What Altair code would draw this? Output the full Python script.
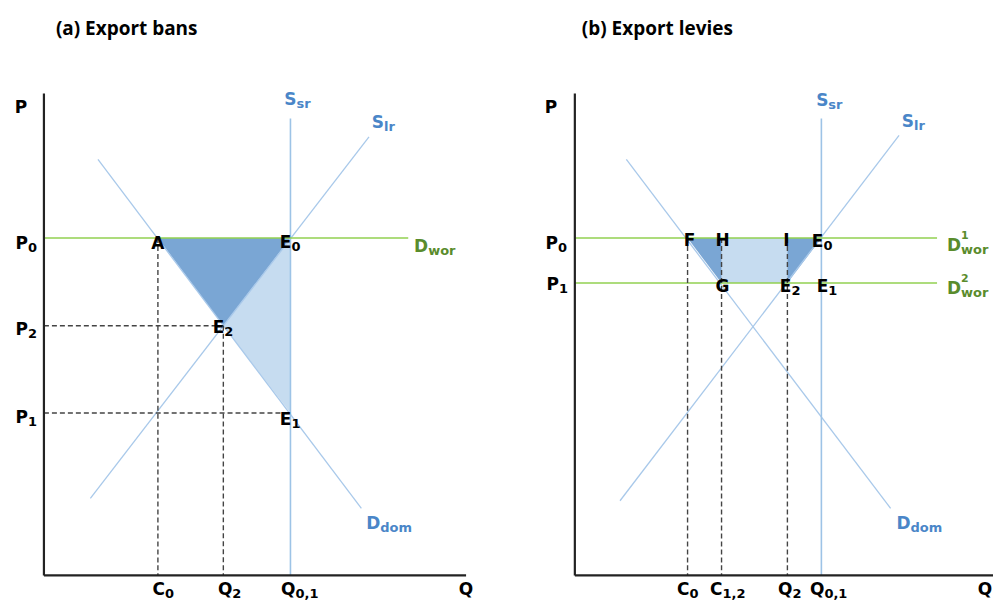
import altair as alt
import pandas as pd

# ----------------------------- values (units 0..10) -----------------------------
AXIS_MAX = 10.0

# (a) Export bans
A_TITLE = "(a) Export bans"
A_Q_NAMES = ["C", "Q", "Q"]
A_Q_SUBS = ["0", "2", "0,1"]
A_Q_VALUES = [2.70, 4.25, 5.84]          # C0, Q2, Q0,1
A_P_SUBS = ["0", "2", "1"]
A_P_VALUES = [7.00, 5.18, 3.37]          # P0, P2, P1
A_DDOM_Q = [1.28, 7.52]
A_DDOM_P = [8.63, 1.39]
A_SLR_Q = [1.10, 7.70]
A_SLR_P = [1.60, 9.10]
A_SSR_TOP = 9.48
A_DWOR_END = 8.63

# (b) Export levies
B_TITLE = "(b) Export levies"
B_Q_NAMES = ["C", "C", "Q", "Q"]
B_Q_SUBS = ["0", "1,2", "2", "0,1"]
B_Q_VALUES = [2.67, 3.475, 5.035, 5.84]  # C0, C1,2, Q2, Q0,1
B_P_SUBS = ["0", "1"]
B_P_VALUES = [7.00, 6.066]               # P0, P1
B_DDOM_Q = [1.22, 7.48]
B_DDOM_P = [8.63, 1.39]
B_SLR_Q = [1.07, 7.68]
B_SLR_P = [1.55, 9.13]
B_SSR_TOP = 9.48
B_DWOR_END = 8.58

# ----------------------------- layout & style -----------------------------
KX, KY = 42.3, 48.3      # pixels per diagram unit
H = 594
Y0 = 567                 # origin distance from panel top (px)
BLACK = "#000000"
BLUE_T = "#4a86c8"
GREEN_T = "#5a8c2c"
LINE_BLUE = "#a9c9ea"
SSR_BLUE = "#9dc3e6"
GREEN = "#92d050"
DARK_FILL = "#7aa6d4"
LIGHT_FILL = "#c6dcf0"
AXIS_COL = "#222222"
FONT = "DejaVu Sans"
TITLE_FONT = "Open Sans"


def build_panel(width, x0, blue, ssr, green, dash, axes, fills, labels, title, title_dx):
    xs = alt.Scale(domain=[-x0 / KX, (width - x0) / KX], nice=False, zero=False)
    ys = alt.Scale(domain=[-(H - Y0) / KY, Y0 / KY], nice=False, zero=False)

    def X(f):
        return alt.X(f, type="quantitative", scale=xs, axis=None)

    def Y(f):
        return alt.Y(f, type="quantitative", scale=ys, axis=None)

    def rules(rows, color, sw, dashes=None):
        df = pd.DataFrame(rows, columns=["q", "p", "q2", "p2"])
        kw = dict(color=color, strokeWidth=sw, clip=True)
        if dashes:
            kw["strokeDash"] = dashes
        return alt.Chart(df).mark_rule(**kw).encode(x=X("q"), y=Y("p"), x2="q2", y2="p2")

    def area(points, color):
        df = pd.DataFrame(points, columns=["q", "top", "bottom"])
        return alt.Chart(df).mark_area(color=color, opacity=1).encode(
            x=X("q"), y=Y("top"), y2=alt.Y2("bottom"))

    main_r, center, sub, sup = [], [], [], []
    for (m, s, u, qa, pa, dx, dy, col, cen) in labels:
        q = qa + dx / KX
        p = pa - dy / KY
        if cen:
            center.append((q, p, m, col))
        else:
            main_r.append((q, p, m, col))
        if s:
            sub.append((q, p, s, col))
        if u:
            sup.append((q, p, u, col))

    def texts(rows, align, size, dy=0, font=FONT):
        df = pd.DataFrame(rows, columns=["q", "p", "t", "c"])
        return alt.Chart(df).mark_text(align=align, baseline="alphabetic", fontSize=size, font=font,
                                       fontWeight="bold", clip=True, dy=dy).encode(
            x=X("q"), y=Y("p"), text="t:N", color=alt.Color("c:N", scale=None))

    layers = [area(pts, LIGHT_FILL if tone == "light" else DARK_FILL) for tone, pts in fills]
    layers += [
        rules(blue, LINE_BLUE, 1.3),
        rules(ssr, SSR_BLUE, 1.6),
        rules(green, GREEN, 1.6),
        rules(dash, "#444444", 1.4, [5, 3]),
        rules(axes, AXIS_COL, 2.2),
        texts(main_r, "right", 17),
        texts(center, "center", 17),
        texts(sub, "left", 13, dy=3),
    ]
    if sup:
        layers.append(texts(sup, "left", 11, dy=-12))
    layers.append(texts([(title_dx / KX, AXIS_MAX + 59 / KY, title, BLACK)], "left", 19, font=TITLE_FONT))
    return alt.layer(*layers).properties(width=width, height=H)


# ----------------------------- panel (a) -----------------------------
aC0, aQ2, aQ01 = A_Q_VALUES
aP0, aP2, aP1 = A_P_VALUES
a_blue = [(A_DDOM_Q[0], A_DDOM_P[0], A_DDOM_Q[1], A_DDOM_P[1]),
          (A_SLR_Q[0], A_SLR_P[0], A_SLR_Q[1], A_SLR_P[1])]
a_ssr = [(aQ01, 0, aQ01, A_SSR_TOP)]
a_green = [(0, aP0, A_DWOR_END, aP0)]
a_dash = [(aC0, aP0, aC0, 0), (aQ2, aP2, aQ2, 0), (0, aP2, aQ2, aP2), (0, aP1, aQ01, aP1)]
a_axes = [(0, 0, 0, AXIS_MAX), (0, 0, AXIS_MAX, 0)]
a_fills = [
    ("light", [(aQ2, aP2, aP2), (aQ01, aP0, aP1)]),                     # E0-E2-E1
    ("dark", [(aC0, aP0, aP0), (aQ2, aP0, aP2), (aQ01, aP0, aP0)]),     # A-E0-E2
]
BOT = 20   # baseline offset of the quantity labels below the Q axis (px)
a_labels = [
    ("P", "", "", 0, AXIS_MAX, -23, 20, BLACK, True),
    ("P", A_P_SUBS[0], "", 0, aP0, -16, 11, BLACK, False),
    ("P", A_P_SUBS[1], "", 0, aP2, -16, 9, BLACK, False),
    ("P", A_P_SUBS[2], "", 0, aP1, -16, 10, BLACK, False),
    ("A", "", "", aC0, aP0, 0, 11, BLACK, True),
    ("E", "0", "", aQ01, aP0, 1, 10, BLACK, False),
    ("E", "2", "", aQ2, aP2, 1, 7, BLACK, False),
    ("E", "1", "", aQ01, aP1, 1, 12, BLACK, False),
    ("S", "sr", "", aQ01, A_SSR_TOP, 6, -14, BLUE_T, False),
    ("S", "lr", "", A_SLR_Q[1], A_SLR_P[1], 15, -9, BLUE_T, False),
    ("D", "wor", "", A_DWOR_END, aP0, 20, 14, GREEN_T, False),
    ("D", "dom", "", A_DDOM_Q[1], A_DDOM_P[1], 19, 21, BLUE_T, False),
    (A_Q_NAMES[0], A_Q_SUBS[0], "", aC0, 0, 7, BOT, BLACK, False),
    (A_Q_NAMES[1], A_Q_SUBS[1], "", aQ2, 0, 9, BOT, BLACK, False),
    (A_Q_NAMES[2], A_Q_SUBS[2], "", aQ01, 0, 5, BOT, BLACK, False),
    ("Q", "", "", AXIS_MAX, 0, 0, BOT, BLACK, True),
]
panel_a = build_panel(490, 35, a_blue, a_ssr, a_green, a_dash, a_axes, a_fills, a_labels, A_TITLE, 12)

# ----------------------------- panel (b) -----------------------------
bC0, bC12, bQ2, bQ01 = B_Q_VALUES
bP0, bP1 = B_P_VALUES
b_blue = [(B_DDOM_Q[0], B_DDOM_P[0], B_DDOM_Q[1], B_DDOM_P[1]),
          (B_SLR_Q[0], B_SLR_P[0], B_SLR_Q[1], B_SLR_P[1])]
b_ssr = [(bQ01, 0, bQ01, B_SSR_TOP)]
b_green = [(0, bP0, B_DWOR_END, bP0), (0, bP1, B_DWOR_END, bP1)]
b_dash = [(bC0, bP0, bC0, 0), (bC12, bP0, bC12, 0), (bQ2, bP0, bQ2, 0)]
b_axes = [(0, 0, 0, AXIS_MAX), (0, 0, AXIS_MAX, 0)]
b_fills = [
    ("light", [(bC12, bP0, bP1), (bQ2, bP0, bP1)]),    # H-I-E2-G
    ("dark", [(bC0, bP0, bP0), (bC12, bP0, bP1)]),     # F-H-G
    ("dark", [(bQ2, bP0, bP1), (bQ01, bP0, bP0)]),     # I-E0-E2
]
b_labels = [
    ("P", "", "", 0, AXIS_MAX, -24, 20, BLACK, True),
    ("P", B_P_SUBS[0], "", 0, bP0, -17, 11, BLACK, False),
    ("P", B_P_SUBS[1], "", 0, bP1, -16, 7, BLACK, False),
    ("F", "", "", bC0, bP0, 2, 8, BLACK, True),
    ("H", "", "", bC12, bP0, 1, 8, BLACK, True),
    ("I", "", "", bQ2, bP0, -1, 8, BLACK, True),
    ("E", "0", "", bQ01, bP0, 2, 9, BLACK, False),
    ("G", "", "", bC12, bP1, 1, 9, BLACK, True),
    ("E", "2", "", bQ2, bP1, 4, 9, BLACK, False),
    ("E", "1", "", bQ01, bP1, 7, 9, BLACK, False),
    ("S", "sr", "", bQ01, B_SSR_TOP, 7, -13, BLUE_T, False),
    ("S", "lr", "", B_SLR_Q[1], B_SLR_P[1], 15, -8, BLUE_T, False),
    ("D", "wor", "1", B_DWOR_END, bP0, 24, 13, GREEN_T, False),
    ("D", "wor", "2", B_DWOR_END, bP1, 24, 11, GREEN_T, False),
    ("D", "dom", "", B_DDOM_Q[1], B_DDOM_P[1], 20, 21, BLUE_T, False),
    (B_Q_NAMES[0], B_Q_SUBS[0], "", bC0, 0, 2, BOT, BLACK, False),
    (B_Q_NAMES[1], B_Q_SUBS[1], "", bC12, 0, 1, BOT, BLACK, False),
    (B_Q_NAMES[2], B_Q_SUBS[2], "", bQ2, 0, 5, BOT, BLACK, False),
    (B_Q_NAMES[3], B_Q_SUBS[3], "", bQ01, 0, 3, BOT, BLACK, False),
    ("Q", "", "", AXIS_MAX, 0, -12, BOT, BLACK, True),
]
panel_b = build_panel(496, 77, b_blue, b_ssr, b_green, b_dash, b_axes, b_fills, b_labels, B_TITLE, 7)

chart = (
    alt.hconcat(panel_a, panel_b, spacing=0, bounds="flush")
    .resolve_scale(x="independent", y="independent")
    .properties(padding=0, background="white")
    .configure_view(stroke="transparent")
)

chart.save("out.html", embed_options={"renderer": "svg", "actions": False})
